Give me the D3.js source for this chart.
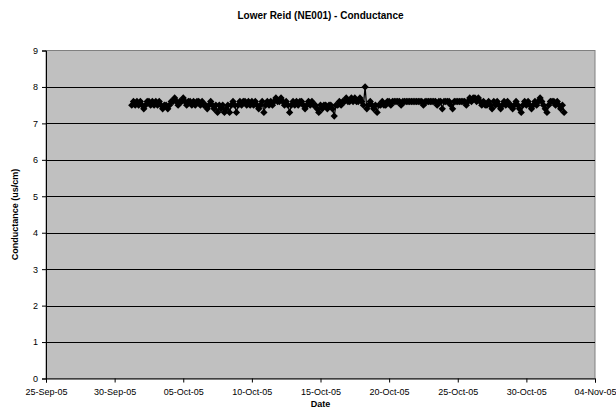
<!DOCTYPE html>
<html>
<head>
<meta charset="utf-8">
<script src="https://cdn.jsdelivr.net/npm/d3@7"></script>
<style>
  html, body { margin: 0; padding: 0; background: #ffffff; }
  svg { display: block; }
  text { font-family: Arial, "Liberation Sans", sans-serif; }
</style>
</head>
<body>
<svg id="chart" width="616" height="410"></svg>
<script>
// ---- data ----
const chartTitle = "Lower Reid (NE001) - Conductance";
const xTitle = "Date";
const yTitle = "Conductance (us/cm)";
const xTickLabels = ["25-Sep-05","30-Sep-05","05-Oct-05","10-Oct-05","15-Oct-05","20-Oct-05","25-Oct-05","30-Oct-05","04-Nov-05"];
const yTickValues = [0,1,2,3,4,5,6,7,8,9];
const startTime = "2005-10-01T06:00:00";
const stepHours = 3;
const conductance = [
  7.5,7.6,7.5,7.6,7.5,7.6,7.5,7.4,
  7.5,7.6,7.6,7.5,7.6,7.5,7.6,7.5,
  7.6,7.5,7.4,7.5,7.5,7.4,7.5,7.6,
  7.6,7.7,7.6,7.5,7.6,7.6,7.7,7.6,
  7.5,7.6,7.6,7.5,7.6,7.5,7.6,7.6,
  7.5,7.6,7.5,7.5,7.4,7.5,7.6,7.5,
  7.4,7.5,7.3,7.5,7.4,7.5,7.3,7.4,
  7.5,7.3,7.5,7.6,7.5,7.3,7.5,7.6,
  7.5,7.6,7.6,7.5,7.6,7.5,7.6,7.5,
  7.6,7.5,7.4,7.5,7.6,7.3,7.5,7.6,
  7.5,7.6,7.5,7.6,7.7,7.6,7.6,7.7,
  7.6,7.5,7.6,7.5,7.3,7.5,7.6,7.5,
  7.6,7.5,7.6,7.6,7.5,7.4,7.5,7.6,
  7.5,7.6,7.5,7.5,7.4,7.3,7.5,7.4,
  7.5,7.5,7.4,7.5,7.5,7.4,7.2,7.5,
  7.5,7.6,7.5,7.6,7.6,7.7,7.6,7.6,
  7.7,7.6,7.7,7.6,7.6,7.7,7.6,7.5,
  8.0,7.4,7.5,7.6,7.5,7.4,7.5,7.3,
  7.5,7.5,7.6,7.5,7.5,7.6,7.6,7.5,
  7.6,7.6,7.6,7.6,7.6,7.5,7.6,7.6,
  7.6,7.6,7.6,7.6,7.6,7.6,7.6,7.6,
  7.6,7.6,7.5,7.6,7.6,7.6,7.6,7.6,
  7.6,7.6,7.5,7.6,7.6,7.4,7.6,7.6,
  7.6,7.6,7.5,7.4,7.6,7.6,7.6,7.6,
  7.6,7.6,7.6,7.5,7.6,7.7,7.6,7.7,
  7.7,7.6,7.7,7.6,7.5,7.6,7.5,7.5,
  7.6,7.5,7.4,7.6,7.5,7.6,7.5,7.4,
  7.5,7.6,7.5,7.6,7.5,7.5,7.4,7.5,
  7.6,7.5,7.4,7.3,7.5,7.6,7.5,7.6,
  7.5,7.4,7.5,7.6,7.5,7.6,7.7,7.6,
  7.5,7.4,7.3,7.5,7.6,7.6,7.6,7.5,
  7.6,7.5,7.4,7.5,7.3
];

// ---- layout ----
const svg = d3.select("#chart");
const plot = { left: 46, top: 50.5, right: 595, bottom: 378.5 };

const parseLabel = d3.timeParse("%d-%b-%y");
const xTickDates = xTickLabels.map(parseLabel);
const t0 = d3.timeParse("%Y-%m-%dT%H:%M:%S")(startTime);
const data = conductance.map((v, i) => ({ t: d3.timeHour.offset(t0, i * stepHours), v }));

const x = d3.scaleTime()
  .domain([xTickDates[0], xTickDates[xTickDates.length - 1]])
  .range([plot.left, plot.right]);
const y = d3.scaleLinear()
  .domain([0, 9])
  .range([plot.bottom, plot.top]);

// plot area background
svg.append("rect")
  .attr("x", plot.left).attr("y", plot.top)
  .attr("width", plot.right - plot.left).attr("height", plot.bottom - plot.top)
  .attr("fill", "#c0c0c0")
  .attr("stroke", "#808080").attr("stroke-width", 1);

// gridlines
svg.append("g").selectAll("line")
  .data(yTickValues.filter(d => d > 0 && d < 9))
  .join("line")
  .attr("x1", plot.left).attr("x2", plot.right)
  .attr("y1", d => Math.round(y(d)) + 0.5).attr("y2", d => Math.round(y(d)) + 0.5)
  .attr("stroke", "#000").attr("stroke-width", 1);

// axes
const yAxis = d3.axisLeft(y).tickValues(yTickValues).tickSize(4).tickPadding(4).tickFormat(d3.format("d"));
const gy = svg.append("g").attr("transform", `translate(${plot.left},0)`).call(yAxis);
gy.select(".domain").attr("stroke", "#000");
gy.selectAll(".tick line").attr("stroke", "#000");
gy.selectAll("text").attr("font-size", 9).attr("fill", "#000");

const xAxis = d3.axisBottom(x).tickValues(xTickDates).tickSize(4).tickPadding(6)
  .tickFormat((d, i) => xTickLabels[i]);
const gx = svg.append("g").attr("transform", `translate(0,${plot.bottom})`).call(xAxis);
gx.select(".domain").attr("stroke", "#000");
gx.selectAll(".tick line").attr("stroke", "#000");
gx.selectAll("text").attr("font-size", 9).attr("fill", "#000");

// series line
const line = d3.line().x(d => x(d.t)).y(d => y(d.v));
svg.append("path").datum(data)
  .attr("d", line)
  .attr("fill", "none").attr("stroke", "#000").attr("stroke-width", 1.25);

// diamond markers
const diamond = d3.symbol().type(d3.symbolDiamond2).size(34);
svg.append("g").selectAll("path")
  .data(data)
  .join("path")
  .attr("transform", d => `translate(${x(d.t)},${y(d.v)})`)
  .attr("d", diamond)
  .attr("fill", "#000");

// titles
svg.append("text")
  .attr("x", (plot.left + plot.right) / 2).attr("y", 19)
  .attr("text-anchor", "middle").attr("font-size", 10).attr("font-weight", "bold")
  .text(chartTitle);

svg.append("text")
  .attr("x", (plot.left + plot.right) / 2).attr("y", 407)
  .attr("text-anchor", "middle").attr("font-size", 9).attr("font-weight", "bold")
  .text(xTitle);

svg.append("text")
  .attr("transform", `translate(18,${(plot.top + plot.bottom) / 2}) rotate(-90)`)
  .attr("text-anchor", "middle").attr("font-size", 9).attr("font-weight", "bold")
  .text(yTitle);
</script>
</body>
</html>
